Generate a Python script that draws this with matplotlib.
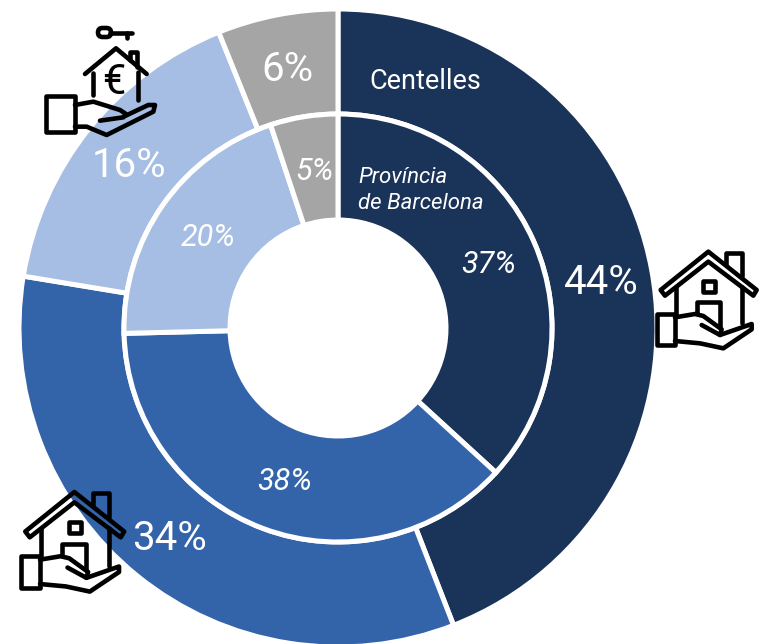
import matplotlib
matplotlib.use("Agg")
import matplotlib.pyplot as plt
from matplotlib.path import Path
from matplotlib.patches import PathPatch, FancyBboxPatch

plt.rcParams['font.family'] = ['Roboto', 'DejaVu Sans']

# shares, clockwise from the top
outer_vals = [44.1, 33.5, 16.3, 6.1]
inner_vals = [36.8, 37.8, 20.3, 5.1]
outer_labels = ["44%", "34%", "16%", "6%"]
inner_labels = ["37%", "38%", "20%", "5%"]
colors = ["#1a3358", "#3364aa", "#a6bee3", "#a5a5a5"]

outer_pos = [(601, 282), (169, 538), (129, 165), (287, 69)]
inner_pos = [(489, 264), (285, 481), (208, 237), (314, 171)]

fig = plt.figure(figsize=(7.63, 6.44), dpi=100)
ax = fig.add_axes([0, 0, 1, 1])

cx, cy = 338, -328
wp = dict(edgecolor="white", linewidth=3.6)
ax.pie(outer_vals, colors=colors, radius=319, center=(cx, cy), startangle=90, counterclock=False,
       wedgeprops=dict(width=105, **wp))
ax.pie(inner_vals, colors=colors, radius=214, center=(cx, cy), startangle=90, counterclock=False,
       wedgeprops=dict(width=106, **wp))

ax.set_xlim(0, 763)
ax.set_ylim(-644, 0)
ax.set_aspect("equal")
ax.axis("off")

for lab, (x, y) in zip(outer_labels, outer_pos):
    ax.text(x, -y, lab, color="white", fontsize=29, ha="center", va="center")
for lab, (x, y) in zip(inner_labels, inner_pos):
    ax.text(x, -y, lab, color="white", fontsize=22, style="italic", ha="center", va="center")

ax.text(369, -81, "Centelles", color="white", fontsize=19.5, ha="left", va="center")
ax.text(358, -177, "Província", color="white", fontsize=16, style="italic", ha="left", va="center")
ax.text(358, -203, "de Barcelona", color="white", fontsize=16, style="italic", ha="left", va="center")


def stroke(pts, ox, oy, s, lw=3.3, close=False):
    # points are in zoomed crop px (3x), turned into figure px here
    v = [(ox + p[0] * s / 3, -(oy + p[1] * s / 3)) for p in pts]
    codes = [Path.MOVETO] + [Path.LINETO] * (len(v) - 1)
    if close:
        v.append(v[0])
        codes.append(Path.CLOSEPOLY)
    ax.add_patch(PathPatch(Path(v, codes), fill=False, edgecolor="black", lw=lw,
                           joinstyle="round", capstyle="round", zorder=5))


def house_hand(ox, oy, s):
    stroke([(62, 150), (205, 35), (350, 150), (340, 167), (205, 65), (75, 167)], ox, oy, s, close=True)
    stroke([(258, 72), (258, 38), (305, 38), (305, 108)], ox, oy, s)
    stroke([(108, 140), (108, 222)], ox, oy, s)
    stroke([(305, 140), (305, 250)], ox, oy, s)
    stroke([(190, 122), (225, 122), (225, 155), (190, 155)], ox, oy, s, close=True)
    stroke([(170, 218), (170, 185), (240, 185), (240, 262)], ox, oy, s)
    stroke([(50, 222), (105, 222), (105, 315), (50, 315)], ox, oy, s, close=True)
    stroke([(105, 232), (165, 222), (190, 228), (245, 268), (240, 285), (185, 255)], ox, oy, s)
    stroke([(240, 285), (335, 252), (335, 268), (250, 325), (180, 310), (105, 303)], ox, oy, s)


house_hand(640, 240, 1.0)
house_hand(4, 480, 1.03)

# key + euro house, top left
ox, oy = 30, 10
ax.add_patch(FancyBboxPatch((ox + 68, -(oy + 27)), 13, 9, boxstyle="round,pad=0,rounding_size=4.5",
                            fill=False, edgecolor="black", lw=3.3, zorder=5))
stroke([(240, 68), (305, 68)], ox, oy, 1)
stroke([(290, 68), (290, 85)], ox, oy, 1)
stroke([(165, 192), (258, 115), (350, 192)], ox, oy, 1)
stroke([(300, 150), (300, 125), (320, 125), (320, 170)], ox, oy, 1)
stroke([(188, 190), (188, 255)], ox, oy, 1)
stroke([(325, 185), (325, 270)], ox, oy, 1)
stroke([(48, 258), (135, 258), (135, 365), (48, 365)], ox, oy, 1, close=True)
stroke([(135, 285), (190, 275), (270, 300), (288, 312), (280, 322), (210, 332)], ox, oy, 1)
stroke([(135, 350), (170, 350), (230, 375), (370, 305), (375, 285), (355, 285), (285, 318)], ox, oy, 1)
ax.text(ox + 252 / 3, -(oy + 217 / 3), "€", color="black", fontsize=30,
        ha="center", va="center", zorder=5)

fig.savefig("out.png", dpi=100)
